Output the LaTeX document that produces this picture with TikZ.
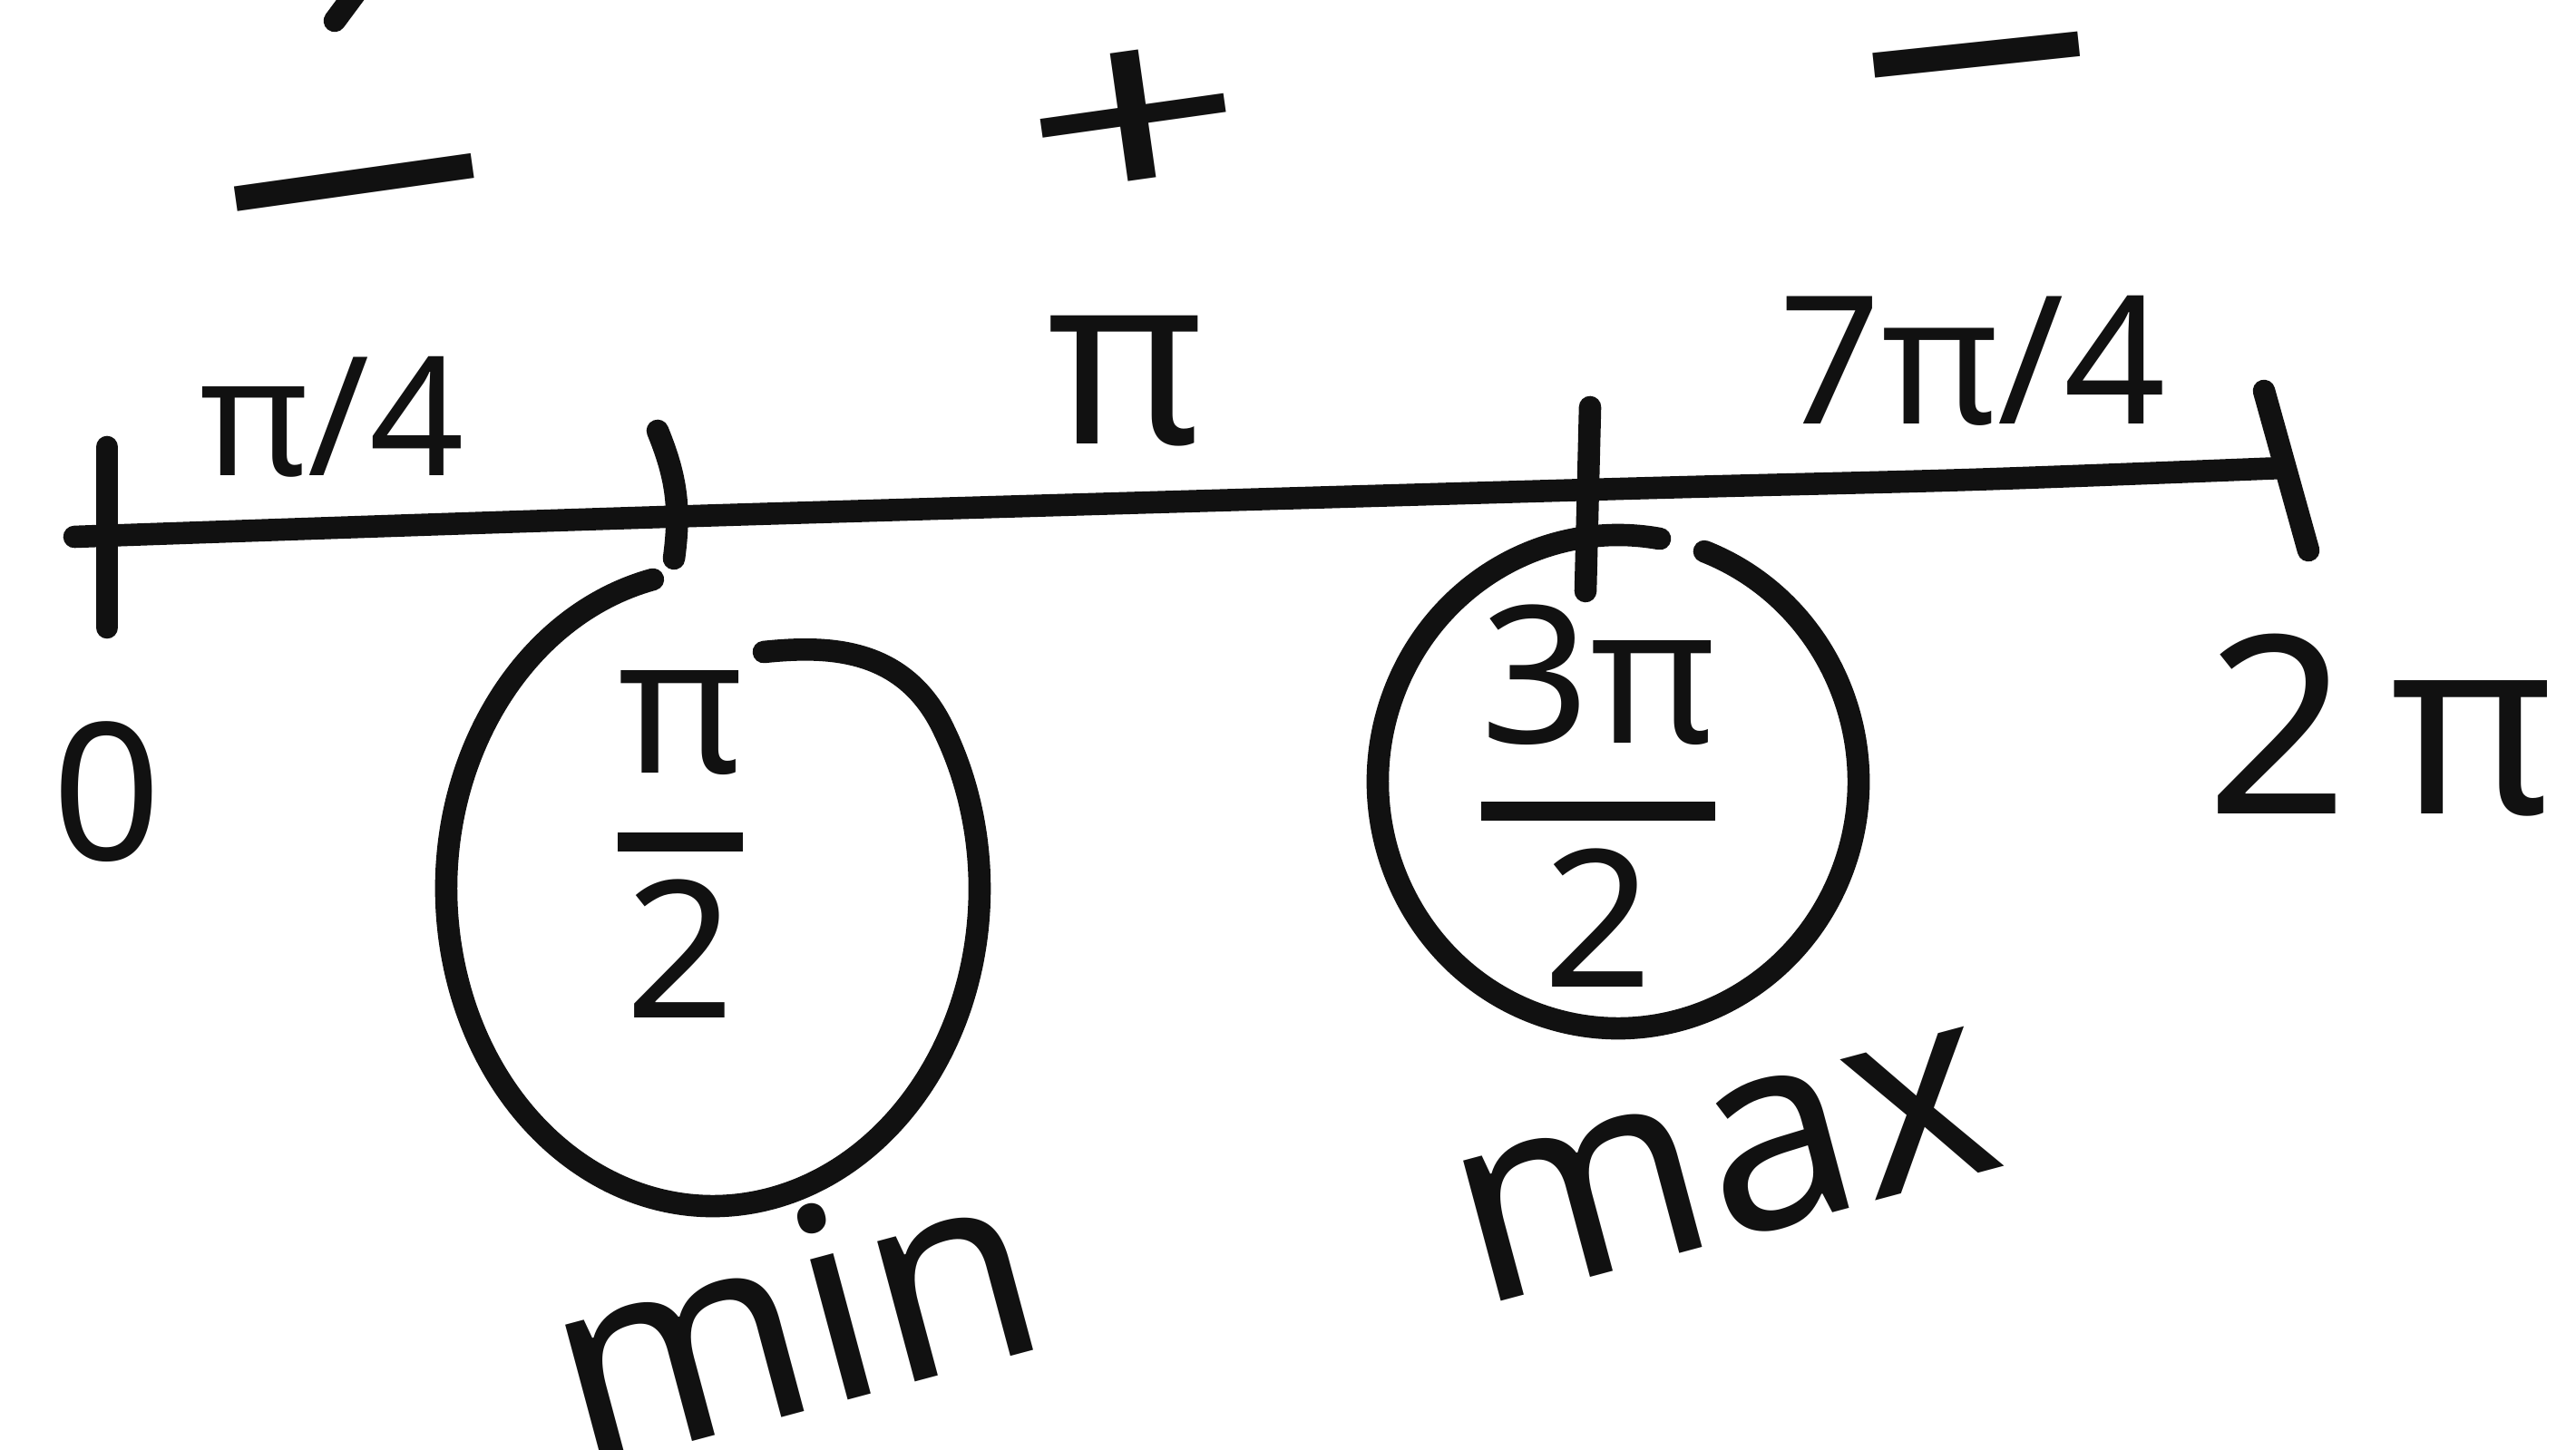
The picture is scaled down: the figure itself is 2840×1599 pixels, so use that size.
\documentclass[tikz,border=0pt]{standalone}
\usepackage{fontspec}
\setmainfont{Noto Sans}
\usepackage{graphicx}
\usepackage{tikz}
\usetikzlibrary{positioning, calc}
\definecolor{ink}{RGB}{17,17,17}

\begin{document}
\begin{tikzpicture}[x=0.1mm, y=-0.1mm,
    pen/.style={ink, line width=7pt, line cap=round, line join=round},
    lbl/.style={ink, inner sep=0pt, font=\fontsize{60}{62}\selectfont},
    seg/.style={ink, inner sep=0pt, font=\fontsize{52}{54}\selectfont},
    sgn/.style={ink, inner sep=0pt, rotate=8, font=\fontsize{110}{110}\selectfont},
    frac/.style={ink, inner sep=0pt, align=center, font=\fontsize{60}{62}\selectfont},
    word/.style={ink, inner sep=0pt, rotate=15, font=\fontsize{85}{85}\selectfont},
  ]
  \useasboundingbox (0,0) rectangle (2840,1599);

  % number line
  \coordinate (zeroPt) at (82,592);
  \coordinate (halfPt) at (734,570);
  \coordinate (threePt) at (1753,540);
  \coordinate (endPt) at (2518,516);
  \draw[pen] plot[smooth] coordinates {(zeroPt) (halfPt) (threePt) (2173,529) (endPt)};

  % ticks
  \draw[pen] (118,493) -- (118,692);
  \draw[pen] (725,475) to[bend left=15] (743,616);
  \draw[pen] (1753,449) -- (1748,652);
  \draw[pen] (2496,431) -- (2545,607);

  % labels
  \node[lbl] (zero) at (118,873) {0};
  \node[lbl, font=\fontsize{78}{80}\selectfont, anchor=west] (twopi) at (2432,800) {2\,π};
  \node[seg] (quarter) at (366,460) {π/4};
  \node[seg, font=\fontsize{75}{75}\selectfont] (pi) at (1241,420) {π};
  \node[seg, font=\fontsize{56}{58}\selectfont] (seven) at (2175,398) {7π/4};

  % signs
  \node[sgn] (signA) at (400,262) {\scalebox{1.45}[1]{−}};
  \node[sgn, font=\fontsize{95}{95}\selectfont] (signB) at (1252,144) {\scalebox{1.3}[0.88]{+}};
  \node[sgn, rotate=-2] (signC) at (2186,121) {\scalebox{1.25}[1]{−}};
  \draw[pen] (369,23) -- (392,-8);

  % circled points
  \draw[pen] (786,980) ++(257:294 and 350) arc[start angle=257, end angle=-30,
    x radius=294, y radius=350] .. controls (997,712) and (910,712) .. (842,719);
  \node[frac] (minVal) at (750,944)
    {\setlength{\arrayrulewidth}{6pt}\begin{tabular}{@{}c@{}}π\\\hline\rule{0pt}{52pt}2\end{tabular}};

  \draw[pen] (1784,862) ++(-69:265 and 272) arc[start angle=-69, end angle=280,
    x radius=265, y radius=272];
  \node[frac] (maxVal) at (1762,910)
    {\setlength{\arrayrulewidth}{6pt}\begin{tabular}{@{}c@{}}3π\\\hline\rule{0pt}{52pt}2\end{tabular}};

  \node[word] (minW) at (873,1446) {min};
  \node[word] (maxW) at (1902,1286) {max};
\end{tikzpicture}
\end{document}
